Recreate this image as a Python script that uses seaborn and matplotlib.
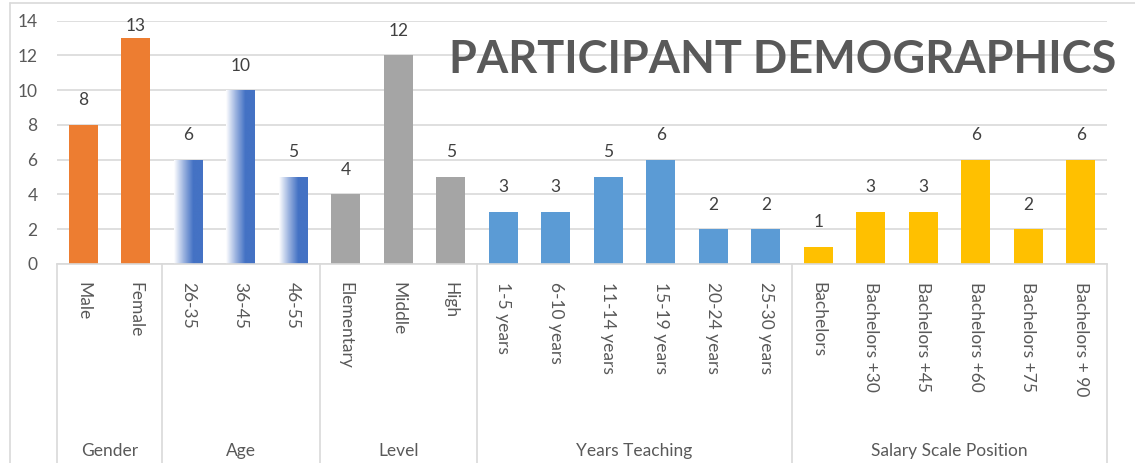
import numpy as np
import pandas as pd
import matplotlib
matplotlib.use("Agg")
import matplotlib.pyplot as plt
import matplotlib.transforms as mtransforms
from matplotlib.lines import Line2D
from matplotlib.colors import LinearSegmentedColormap
import seaborn as sns

groups = ["Gender", "Age", "Level", "Years Teaching", "Salary Scale Position"]
categories = [
    ["Male", "Female"],
    ["26-35", "36-45", "46-55"],
    ["Elementary", "Middle", "High"],
    ["1-5 years", "6-10 years", "11-14 years", "15-19 years", "20-24 years", "25-30 years"],
    ["Bachelors", "Bachelors +30", "Bachelors +45", "Bachelors +60", "Bachelors +75", "Bachelors + 90"],
]
values = [
    [8, 13],
    [6, 10, 5],
    [4, 12, 5],
    [3, 3, 5, 6, 2, 2],
    [1, 3, 3, 6, 2, 6],
]
group_colors = ["#ED7D31", "#4472C4", "#A5A5A5", "#5B9BD5", "#FFC000"]
title = "PARTICIPANT DEMOGRAPHICS"
yticks = [0, 2, 4, 6, 8, 10, 12, 14]

rows = []
for g, cats, vals in zip(groups, categories, values):
    for c, v in zip(cats, vals):
        rows.append({"group": g, "category": c, "value": v})
df = pd.DataFrame(rows)

sns.set_theme(style="white")
plt.rcParams["font.family"] = ["Lato", "DejaVu Sans"]

W, H = 1135, 463
fig = plt.figure(figsize=(W / 100, H / 100), dpi=100)
ax = fig.add_axes([57 / W, (H - 264) / H, (1107 - 57) / W, (264 - 20.7) / H])

palette = dict(zip(groups, group_colors))
sns.barplot(data=df, x="category", y="value", hue="group", palette=palette,
            dodge=False, legend=False, width=0.55, saturation=1, ax=ax,
            order=list(df["category"]), linewidth=0, edgecolor="none")

ax.set_ylim(0, 14)
ax.set_xlim(-0.5, len(df) - 0.5)
ax.set_yticks(yticks)
ax.set_yticklabels([str(t) for t in yticks], fontsize=12.5, color="#595959")
ax.yaxis.grid(True, color="#D9D9D9", linewidth=1.2)
ax.set_axisbelow(True)
for s in ["top", "right", "left"]:
    ax.spines[s].set_visible(False)
ax.spines["bottom"].set_color("#D9D9D9")
ax.spines["bottom"].set_linewidth(1.2)
ax.tick_params(axis="y", length=0, pad=14)
ax.tick_params(axis="x", length=0, pad=13)
ax.set_xlabel("")
ax.set_ylabel("")
ax.set_xticks(range(len(df)))
ax.set_xticklabels(list(df["category"]), rotation=270, fontsize=12.5,
                   color="#595959", va="top", ha="center")

# Gradient fill for Age bars
age_idx = groups.index("Age")
cont = ax.containers[age_idx]
grad = np.linspace(0, 1, 256).reshape(1, -1)
cmap = LinearSegmentedColormap.from_list("agegrad", ["#FFFFFF", "#9DB4E0", "#4472C4", "#4472C4"])
for p in cont.patches:
    if p.get_height() <= 0:
        continue
    x0, w, h = p.get_x(), p.get_width(), p.get_height()
    im = ax.imshow(grad, extent=[x0, x0 + w, 0, h], aspect="auto", cmap=cmap,
                   zorder=p.get_zorder(), origin="lower")
    im.set_clip_path(p)
    p.set_facecolor("none")
    p.set_edgecolor("none")
ax.set_xlim(-0.5, len(df) - 0.5)
ax.set_ylim(0, 14)

# Data labels
for c in ax.containers:
    texts = ax.bar_label(c, fmt="%d", padding=12, fontsize=12.5, color="#404040")
    for t, p in zip(texts, c.patches):
        if p.get_height() > 12.5:
            t.xyann = (0, 3)

# Multi-level category axis
trans = mtransforms.blended_transform_factory(ax.transData, fig.transFigure)
ybot_ax = (H - 264) / H
bounds = [-0.5]
pos = -0.5
for cats in categories:
    pos += len(cats)
    bounds.append(pos)
for b in bounds:
    ax.add_line(Line2D([b, b], [ybot_ax, 0], transform=trans, color="#D9D9D9",
                       linewidth=1.2, clip_on=False))
for g, a, b in zip(groups, bounds[:-1], bounds[1:]):
    ax.text((a + b) / 2, (H - 451) / H, g, transform=trans, ha="center", va="center",
            fontsize=12.5, color="#595959")

# Title
fig.text(783 / W, (H - 60) / H, title, ha="center", va="center", fontsize=32.5,
         fontweight="bold", color="#595959")

# Outer chart border (partial crop)
fig.add_artist(Line2D([10 / W, 1], [1 - 3 / H, 1 - 3 / H], transform=fig.transFigure,
                      color="#D9D9D9", linewidth=1.2))
fig.add_artist(Line2D([10 / W, 10 / W], [0, 1 - 3 / H], transform=fig.transFigure,
                      color="#D9D9D9", linewidth=1.2))

fig.savefig("out.png", dpi=100)
